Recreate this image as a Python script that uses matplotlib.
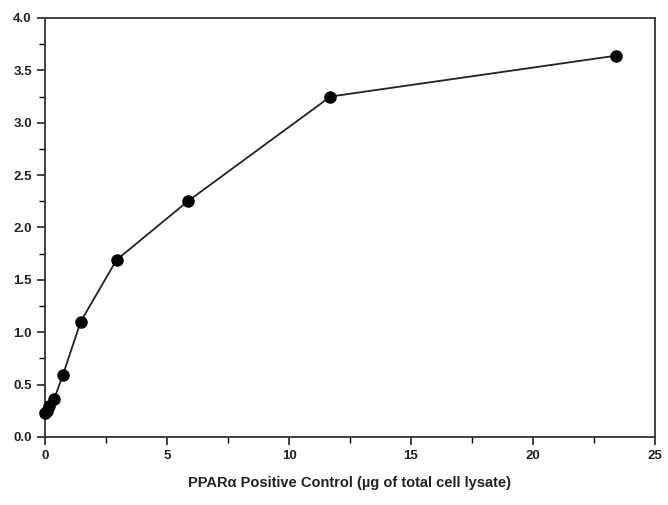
import matplotlib
matplotlib.use("Agg")
import matplotlib.pyplot as plt
from matplotlib.ticker import MultipleLocator

# PPARa positive control dilution series (ug lysate) vs absorbance
lysate_ug = [0.0, 0.09, 0.18, 0.37, 0.73, 1.46, 2.93, 5.85, 11.7, 23.4]
absorbance = [0.23, 0.25, 0.30, 0.36, 0.59, 1.10, 1.69, 2.25, 3.25, 3.64]

X_TICKS = [0, 5, 10, 15, 20, 25]
Y_TICKS = [0.0, 0.5, 1.0, 1.5, 2.0, 2.5, 3.0, 3.5, 4.0]

plt.rcParams["font.family"] = ["Liberation Sans", "DejaVu Sans"]

fig = plt.figure(figsize=(6.68, 5.05), dpi=100)
ax = fig.add_axes([0.0674, 0.1347, 0.9131, 0.8297])

ax.plot(lysate_ug, absorbance, color="#222222", lw=1.3,
        marker="o", ms=8, mfc="black", mec="black", clip_on=False, zorder=3)

ax.set_xlim(0, 25)
ax.set_ylim(0, 4.0)
ax.set_xticks(X_TICKS)
ax.set_yticks(Y_TICKS)
ax.xaxis.set_minor_locator(MultipleLocator(2.5))
ax.yaxis.set_minor_locator(MultipleLocator(0.25))
ax.set_yticklabels([f"{v:.1f}" for v in Y_TICKS])

ax.tick_params(which="major", direction="out", length=6, width=1.2,
               labelsize=9.5, colors="#222222")
ax.tick_params(which="minor", direction="out", length=4, width=1.0)
for lbl in ax.get_xticklabels() + ax.get_yticklabels():
    lbl.set_fontweight("bold")
for sp in ax.spines.values():
    sp.set_linewidth(1.3)
    sp.set_color("#333333")

ax.set_xlabel("PPARα Positive Control (µg of total cell lysate)",
              fontsize=10.5, fontweight="bold", color="#222222", labelpad=10)

fig.savefig("out.png", dpi=100)
